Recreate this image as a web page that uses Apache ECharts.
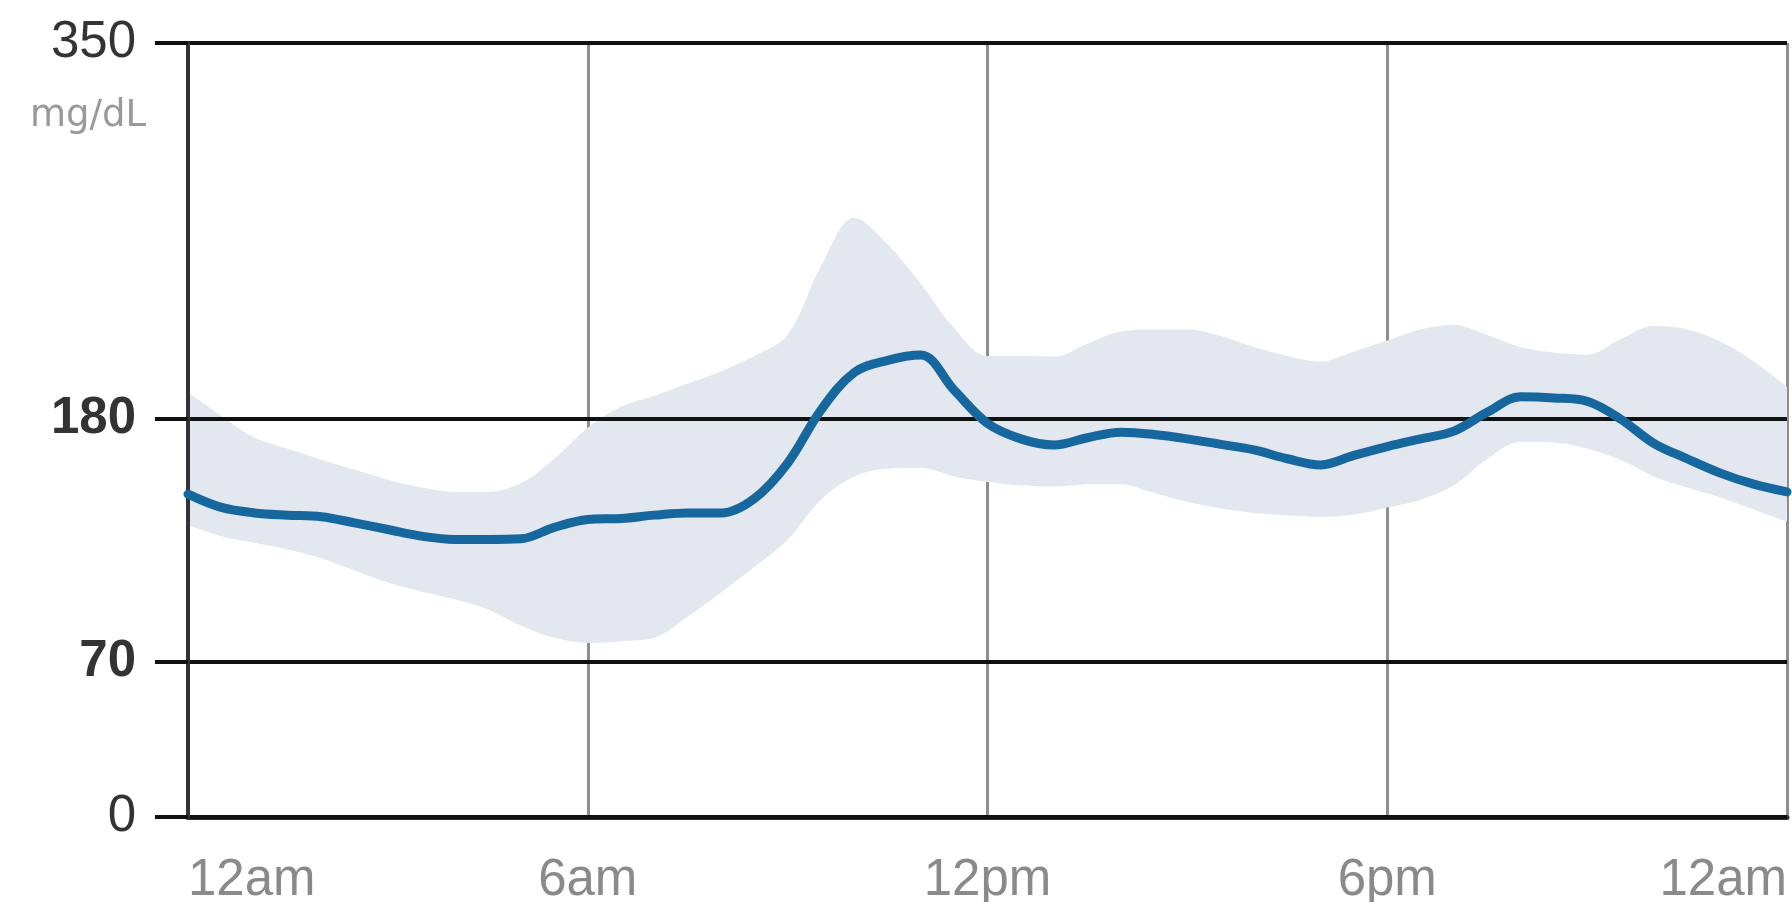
<!DOCTYPE html>
<html>
<head>
<meta charset="utf-8">
<title>Glucose profile</title>
<script src="https://cdn.jsdelivr.net/npm/echarts@6/dist/echarts.min.js"></script>
<style>
  html, body { margin: 0; padding: 0; background: #ffffff; }
  #chart { width: 1792px; height: 902px; }
</style>
</head>
<body>
<div id="chart"></div>
<script>
// Hour of day for each sample (0 = midnight, 24 = next midnight)
const hours = [0, 0.5, 1, 1.5, 2, 2.5, 3, 3.5, 4, 4.5, 5, 5.5, 6, 6.5, 7, 7.5, 8, 8.5,
  9, 9.5, 10, 10.5, 11, 11.5, 12, 12.5, 13, 13.5, 14, 14.5, 15, 15.5, 16, 16.5,
  17, 17.5, 18, 18.5, 19, 19.5, 20, 20.5, 21, 21.5, 22, 22.5, 23, 23.5, 24];

// Median glucose (mg/dL)
const median = [146, 140, 137.5, 136.5, 135.8, 133, 130, 127, 125.5, 125.5, 125.8, 131, 134.5, 135, 136.5, 137.5, 137.5, 144,
  160, 184, 201, 206.5, 208.9, 193, 178, 171, 168.2, 171.5, 174, 173, 171, 168.5, 166, 162,
  159.2, 163.5, 167.5, 171, 174.5, 183, 190, 189.5, 188, 180, 169, 162, 155.5, 150.5, 147];

// Lower edge of the shaded range (mg/dL)
const rangeLow = [132, 127, 124, 121, 117, 111.5, 106, 102, 98.5, 94, 86.5, 81, 78.7, 79.5, 81, 90.5, 101.5, 113,
  125.5, 143.5, 154, 157.5, 157.8, 154, 151.5, 150, 149.4, 150.5, 150.5, 146.5, 142.5, 139.5, 137.5, 136.5,
  135.8, 136.8, 140, 143.5, 150, 162, 169.7, 169.3, 166.5, 161.5, 154, 149, 144.5, 139, 133.5];

// Upper edge of the shaded range (mg/dL)
const rangeHigh = [192, 181.5, 171.5, 166.5, 161.5, 157, 152.5, 149, 147, 147, 151, 162, 176, 185.5, 190.5, 196, 201.5, 208.5,
  218, 249, 271, 259, 241, 221, 208.5, 208.5, 208.2, 214, 219.5, 220.5, 220.5, 217.5, 212.5, 208.5,
  206, 210.5, 215.5, 220.5, 222.5, 218, 212.5, 210, 209, 216, 222, 220.5, 215, 206, 194.5];

// Axis ticks
const xTickHours = [0, 6, 12, 18, 24];
const xTickLabels = ['12am', '6am', '12pm', '6pm', '12am'];
const yTicks = [0, 70, 180, 350];
const yTargetTicks = [70, 180];
const unitLabel = 'mg/dL';

// Width of the shaded range, stacked on top of its lower edge
const rangeSpread = rangeHigh.map((v, i) => v - rangeLow[i]);
const isHourTick = (index) => xTickHours.indexOf(hours[index]) >= 0;

const FONT = "'Liberation Sans', Arial, Helvetica, sans-serif";

const chart = echarts.init(document.getElementById('chart'), null, { renderer: 'canvas' });

chart.setOption({
  animation: false,
  backgroundColor: '#ffffff',
  grid: { left: 188, right: 5, top: 43, bottom: 85, containLabel: false, outerBoundsMode: 'none' },
  xAxis: {
    type: 'category',
    data: hours.map(String),
    boundaryGap: false,
    z: 0,
    axisLine: { show: true, onZero: false, lineStyle: { color: '#333333', width: 5 } },
    axisTick: { show: false },
    splitLine: {
      show: true,
      interval: (index) => isHourTick(index),
      lineStyle: { color: '#8e8e8e', width: 3 }
    },
    axisLabel: {
      show: true,
      interval: (index) => isHourTick(index),
      margin: 38,
      color: '#8a8a8a',
      fontSize: 51,
      fontFamily: FONT,
      alignMinLabel: 'left',
      alignMaxLabel: 'right',
      formatter: (value, index) => xTickLabels[xTickHours.indexOf(hours[index])] || ''
    }
  },
  yAxis: {
    type: 'value',
    min: 0,
    max: 350,
    z: 3,
    axisLine: { show: true, lineStyle: { color: '#333333', width: 4 } },
    axisTick: {
      show: true,
      customValues: yTicks,
      length: 33,
      lineStyle: { color: '#111111', width: 4 }
    },
    splitLine: { show: true, lineStyle: { color: '#111111', width: 4 } },
    axisLabel: {
      show: true,
      customValues: yTicks,
      margin: 52,
      color: '#333333',
      fontSize: 51,
      fontFamily: FONT,
      formatter: (v) => yTargetTicks.indexOf(v) >= 0 ? '{b|' + v + '}' : '{n|' + v + '}',
      rich: {
        n: { fontSize: 51, fontFamily: FONT, color: '#333333', fontWeight: 'normal' },
        b: { fontSize: 51, fontFamily: FONT, color: '#333333', fontWeight: 'bold' }
      }
    }
  },
  graphic: [{
    type: 'text',
    x: 146,
    y: 116,
    z: 10,
    style: {
      text: unitLabel,
      align: 'right',
      verticalAlign: 'middle',
      fill: '#9a9a9a',
      fontSize: 37,
      fontFamily: "'DejaVu Sans', sans-serif"
    }
  }],
  series: [
    {
      name: 'rangeLow',
      type: 'line',
      stack: 'range',
      data: rangeLow,
      smooth: 0.35,
      symbol: 'none',
      z: 2,
      lineStyle: { opacity: 0, width: 0 },
      silent: true
    },
    {
      name: 'range',
      type: 'line',
      stack: 'range',
      data: rangeSpread,
      smooth: 0.35,
      symbol: 'none',
      z: 2,
      lineStyle: { opacity: 0, width: 0 },
      areaStyle: { color: '#e2e7f0', opacity: 1 },
      silent: true
    },
    {
      name: 'median',
      type: 'line',
      data: median,
      smooth: 0.35,
      symbol: 'none',
      z: 5,
      lineStyle: { color: '#17679f', width: 9, cap: 'round', join: 'round' }
    }
  ]
});
</script>
</body>
</html>
